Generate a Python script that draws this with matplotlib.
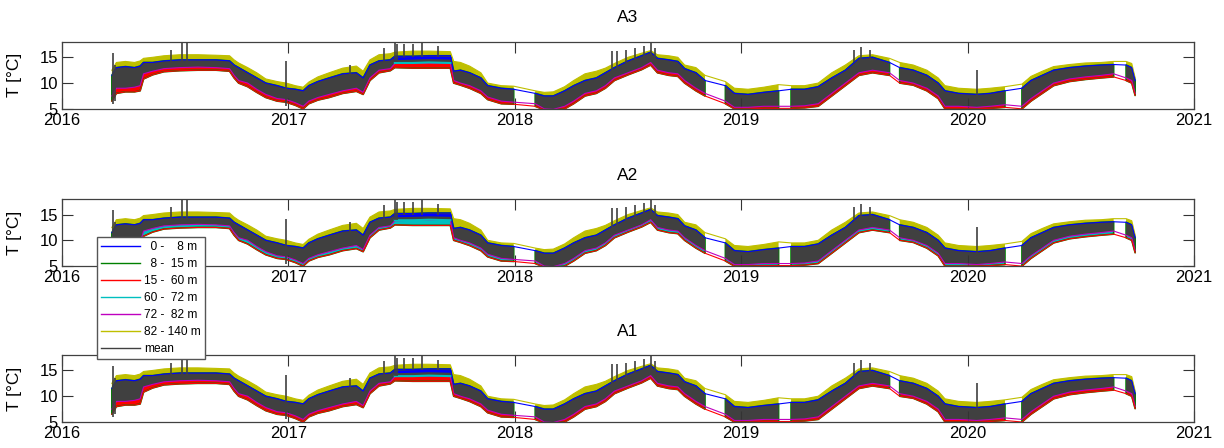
import numpy as np
import matplotlib.pyplot as plt
from matplotlib.lines import Line2D

plt.rcParams['font.family'] = ['Liberation Sans', 'DejaVu Sans']

nan = float('nan')

# --- time axis (decimal years), nan rows mark gaps in the record --- #
t = [2016.22, 2016.24, 2016.28, 2016.32, 2016.345, 2016.36, 2016.40, 2016.45, 2016.52, 2016.60,
     2016.68, 2016.74, 2016.76, 2016.78, 2016.82, 2016.86, 2016.90, 2016.95, 2016.99, 2017.03,
     2017.065, 2017.09, 2017.13, 2017.18, 2017.24, 2017.30, 2017.33, 2017.36, 2017.40, 2017.45,
     2017.47, 2017.55, 2017.62, 2017.715, 2017.73, 2017.76, 2017.80, 2017.85, 2017.88, 2017.94,
     2017.995, 2018.03, 2018.09, 2018.13, 2018.17, 2018.22, 2018.26, 2018.31, 2018.36, 2018.40,
     2018.44, 2018.50, 2018.56, 2018.60, 2018.63, 2018.68, 2018.72, 2018.75, 2018.80, 2018.84,
     2018.89, 2018.93, 2018.97, 2019.03, 2019.10, 2019.165, 2019.19, 2019.22, 2019.28, 2019.34,
     2019.40, 2019.46, 2019.52, 2019.58, 2019.655, 2019.68, 2019.70, 2019.76, 2019.82, 2019.87,
     2019.90, 2019.96, 2020.04, 2020.10, 2020.165, 2020.20, 2020.24, 2020.28, 2020.33, 2020.38,
     2020.45, 2020.52, 2020.59, 2020.645, 2020.67, 2020.70, 2020.725, 2020.74]

# mean band (lower / upper edge of the dark trace)
mean_lo = [7.5, 9.0, 9.0, 9.2, 9.5, 11.8, 12.3, 12.8, 13.0, 13.1,
           13.0, 12.8, 11.5, 10.5, 10.0, 8.8, 7.8, 7.0, 6.8, 6.2,
           5.5, 6.5, 7.2, 7.8, 8.5, 9.0, 8.2, 11.0, 12.5, 12.8,
           13.8, 13.9, 13.9, 13.9, 10.5, 10.0, 9.5, 8.5, 7.3, 6.5,
           6.3, nan, 6.0, 5.0, 4.9, 5.5, 6.5, 8.0, 8.5, 9.5,
           11.0, 12.0, 13.0, 14.0, 12.5, 12.0, 11.8, 10.5, 9.0, 8.0,
           nan, 6.5, 5.3, 5.3, 5.5, 5.5, nan, 5.5, 5.6, 6.0,
           8.0, 10.0, 12.0, 12.5, 12.0, nan, 10.5, 10.0, 9.0, 7.5,
           5.5, 5.5, 5.3, 5.5, 5.8, nan, 5.5, 7.0, 8.5, 10.0,
           10.8, 11.2, 11.5, 11.8, nan, 11.0, 10.5, 8.0]
mean_hi = [11.5, 13.0, 13.2, 13.0, 13.3, 14.0, 14.0, 14.3, 14.5, 14.5,
           14.5, 14.3, 13.5, 13.0, 12.0, 11.0, 10.0, 9.5, 9.0, 8.8,
           8.5, 9.5, 10.3, 11.0, 11.8, 12.0, 11.0, 13.5, 14.3, 14.5,
           15.2, 15.2, 15.3, 15.3, 12.3, 12.5, 12.0, 11.0, 9.5, 9.0,
           8.8, nan, 8.0, 7.5, 7.5, 8.5, 9.5, 10.5, 11.0, 12.0,
           13.0, 14.3, 15.3, 16.0, 14.8, 14.5, 14.2, 12.8, 12.0, 10.5,
           nan, 9.5, 8.0, 7.8, 8.2, 8.5, nan, 8.8, 8.8, 9.3,
           11.0, 12.5, 14.8, 15.0, 14.0, nan, 13.0, 12.5, 11.5, 10.0,
           8.5, 8.0, 7.8, 8.0, 8.5, nan, 9.0, 10.5, 11.5, 12.5,
           13.0, 13.3, 13.5, 13.6, nan, 13.5, 13.0, 10.5]
# warmest layer upper edge (82-140 m) and coldest layers lower edge
top = [12.5, 14.0, 14.2, 14.0, 14.3, 14.8, 15.0, 15.3, 15.5, 15.5,
       15.4, 15.3, 14.5, 13.9, 13.0, 12.0, 10.8, 10.3, 10.0, 9.5,
       9.2, 10.2, 11.2, 12.0, 12.9, 13.3, 12.3, 14.5, 15.5, 15.7,
       16.0, 16.2, 16.2, 16.1, 14.2, 14.0, 13.3, 12.0, 10.0, 9.5,
       9.4, nan, 8.5, 8.2, 8.3, 9.3, 10.5, 11.8, 12.3, 12.9,
       13.8, 15.0, 15.8, 16.3, 15.5, 15.3, 15.0, 13.5, 13.0, 11.5,
       nan, 10.3, 9.0, 8.8, 9.2, 9.7, nan, 9.5, 9.5, 10.0,
       12.0, 13.5, 15.3, 15.5, 14.8, nan, 14.0, 13.5, 12.5, 11.0,
       9.5, 9.0, 8.8, 9.0, 9.3, nan, 9.8, 11.3, 12.3, 13.2,
       13.6, 13.9, 14.0, 14.2, nan, 14.2, 13.8, 11.0]
bot = [6.5, 8.0, 8.3, 8.3, 8.5, 10.8, 11.6, 12.2, 12.4, 12.5,
       12.5, 12.3, 11.0, 10.0, 9.3, 8.2, 7.2, 6.5, 6.3, 5.7,
       5.0, 6.0, 6.7, 7.2, 8.0, 8.4, 7.8, 10.5, 12.0, 12.4,
       13.0, 12.9, 12.9, 12.9, 10.0, 9.6, 9.0, 8.0, 6.8, 6.0,
       5.9, nan, 5.5, 4.8, 4.8, 5.0, 6.0, 7.5, 8.0, 9.0,
       10.5, 11.6, 12.6, 13.5, 12.0, 11.5, 11.3, 10.0, 8.5, 7.5,
       nan, 6.0, 5.0, 5.0, 5.1, 5.1, nan, 5.1, 5.2, 5.5,
       7.5, 9.5, 11.5, 12.0, 11.5, nan, 10.0, 9.6, 8.5, 7.0,
       5.0, 5.0, 5.0, 5.1, 5.3, nan, 5.0, 6.5, 8.0, 9.5,
       10.3, 10.7, 11.0, 11.2, nan, 10.5, 10.0, 7.6]

# short spikes in the mean trace
spike_t = [2016.225, 2016.235, 2016.48, 2016.53, 2016.55, 2016.99, 2017.27, 2017.42, 2017.47,
           2017.48, 2017.51, 2017.55, 2017.59, 2017.66, 2018.43, 2018.45, 2018.49, 2018.53,
           2018.57, 2018.60, 2018.62, 2019.50, 2019.53, 2019.57, 2020.04]
spike_lo = [6.0, 6.5, 14.0, 14.0, 14.0, 5.5, 11.0, 14.0, 14.0,
            14.0, 15.0, 15.0, 15.0, 15.0, 12.0, 12.0, 13.0, 14.0,
            14.0, 15.0, 14.0, 14.0, 14.0, 14.0, 7.0]
spike_hi = [15.8, 13.5, 16.5, 17.8, 17.8, 14.2, 13.5, 16.8, 17.8,
            17.5, 17.5, 17.5, 17.8, 17.1, 16.2, 16.2, 16.5, 16.8,
            17.2, 17.8, 16.8, 16.5, 17.0, 16.5, 12.6]

# summer 2017: upper layers visible next to the mean
strat_t = [2017.47, 2017.55, 2017.62, 2017.715]
blue_strat = [14.7, 14.8, 14.9, 14.8]
cyan_strat = [13.9, 13.9, 14.0, 13.9]

panels = ['A3', 'A2', 'A1']
layers = ['  0 -    8 m', '  8 -  15 m', '15 -  60 m', '60 -  72 m', '72 -  82 m', '82 - 140 m', 'mean']
colors = [(0, 0, 1), (0, 0.5, 0), (1, 0, 0), (0, 0.75, 0.75), (0.75, 0, 0.75), (0.75, 0.75, 0), (0.25, 0.25, 0.25)]
years = [2016, 2017, 2018, 2019, 2020, 2021]

t = np.array(t)
mean_lo = np.array(mean_lo)
mean_hi = np.array(mean_hi)
top = np.array(top)
bot = np.array(bot)
ok = ~np.isnan(mean_lo)

fig = plt.figure(figsize=(12.24, 4.48), dpi=100)
bottoms = [0.757, 0.406, 0.058]

for name, b in zip(panels, bottoms):
    ax = fig.add_axes([0.0507, b, 0.9248, 0.1496])
    blue, green, red, cyan, mag, yel, gray = colors

    # lines drawn straight through the gaps
    ax.plot(t[ok], top[ok], color=yel, lw=0.8)
    ax.plot(t[ok], mean_hi[ok], color=blue, lw=0.8)
    ax.plot(t[ok], mean_lo[ok], color=mag, lw=0.8)
    ax.plot(t[ok], bot[ok], color=red, lw=0.8)

    ax.fill_between(t, mean_lo, top, color=yel, lw=0)
    if name == 'A2':
        ax.fill_between(t, bot, mean_hi, facecolor=red, lw=0)
        ax.fill_between(t, bot, mean_hi, facecolor=cyan, edgecolor=green, lw=1.2)
    else:
        ax.fill_between(t, bot, mean_hi, facecolor=red, edgecolor=green, lw=1.2)
    ax.fill_between(t, mean_lo, mean_hi, color=gray, lw=0)
    ax.plot(strat_t, blue_strat, color=blue, lw=1.8)
    ax.plot(strat_t, cyan_strat, color=cyan, lw=1.5)
    ax.vlines(spike_t, spike_lo, spike_hi, color=gray, lw=1.2)

    ax.set_xlim(2016, 2021)
    ax.set_ylim(5, 18)
    ax.set_xticks(years)
    ax.set_xticklabels([str(y) for y in years])
    ax.set_yticks([5, 10, 15])
    ax.tick_params(direction='in', top=True, right=True, length=8, width=0.8,
                   labelsize=12, pad=3, colors='#333333', labelcolor='black')
    for s in ax.spines.values():
        s.set_color('#404040')
        s.set_linewidth(0.9)
    ax.set_ylabel('T [°C]', fontsize=12.5)
    ax.yaxis.set_label_coords(-0.035, 0.5)
    ax.set_title(name, fontsize=12.5, pad=14)

handles = [Line2D([], [], color=c, lw=1) for c in colors]
fig.legend(handles, layers, loc='upper left', bbox_to_anchor=(0.079, 0.471),
           fontsize=8.6, frameon=True, fancybox=False, edgecolor='#555555',
           framealpha=1, handlelength=3.3, handletextpad=0.3, labelspacing=0.42,
           borderpad=0.35, borderaxespad=0)

fig.savefig('out.png', dpi=100)
